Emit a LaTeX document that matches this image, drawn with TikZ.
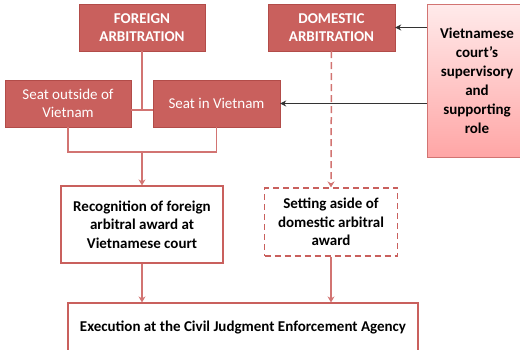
\documentclass[tikz,border=0pt]{standalone}
\usepackage{fontspec}
\setmainfont{Carlito}
\usepackage{tikz}
\usetikzlibrary{positioning,arrows.meta}
\definecolor{boxred}{HTML}{C9605D}
\definecolor{edgered}{HTML}{B24C49}
\definecolor{linkred}{HTML}{D27472}
\tikzset{
  darkbox/.style={draw=edgered,fill=boxred,text=white,align=center,font=\fontsize{15}{18}\selectfont},
  lightbox/.style={draw=boxred,line width=1.2pt,fill=white,align=center,font=\bfseries\fontsize{15}{18.5}\selectfont},
  link/.style={draw=linkred,line width=1.5pt},
  tip/.style={-{Stealth[length=6pt,width=7pt]}},
  courtarrow/.style={draw=black!80,line width=1.3pt,-{Stealth[length=6pt,width=6pt]}}
}
\begin{document}
\begin{tikzpicture}[x=1pt,y=-1pt]
\useasboundingbox (0,0) rectangle (520,349);
\clip (0,0) rectangle (520,349);
% top row
\node[darkbox,font=\bfseries\fontsize{15}{18}\selectfont,minimum width=126pt,minimum height=47pt] (foreign) at (142,27.5) {FOREIGN\\ARBITRATION};
\node[darkbox,font=\bfseries\fontsize{15}{18}\selectfont,minimum width=127pt,minimum height=47pt] (domestic) at (331.5,27.5) {DOMESTIC\\ARBITRATION};
\node[draw=linkred,top color=red!8,bottom color=red!35,align=center,font=\bfseries\fontsize{15}{19}\selectfont,minimum width=100pt,minimum height=153pt] (court) at (477,80.5) {Vietnamese\\court’s\\supervisory\\and\\supporting\\role};
% seats
\node[darkbox,minimum width=126pt,minimum height=47pt] (seatout) at (68,103.5) {Seat outside of\\Vietnam};
\node[darkbox,minimum width=127pt,minimum height=47pt] (seatin) at (216.5,103.5) {Seat in Vietnam};
% procedures
\node[lightbox,minimum width=162pt,minimum height=77pt] (recog) at (142,224.5) {Recognition of foreign\\arbitral award at\\Vietnamese court};
\node[lightbox,dash pattern=on 6pt off 4pt,minimum width=133pt,minimum height=68pt] (setaside) at (331,222) {Setting aside of\\domestic arbitral\\award};
\node[lightbox,minimum width=350pt,minimum height=48pt] (exec) at (243,327) {Execution at the Civil Judgment Enforcement Agency};
% connectors
\coordinate (join) at (142,110);
\coordinate (merge) at (142,152);
\draw[link] (foreign) -- (join);
\draw[link] (seatout.east |- join) -- (seatin.west |- join);
\draw[link] (seatout.south) |- (merge) -| (seatin.south);
\draw[link,tip] (merge) -- (recog.north);
\draw[link,dash pattern=on 7pt off 4pt,tip] (domestic.south) -- (setaside.north);
\draw[link,tip] (recog.south) -- (recog.south |- exec.north);
\draw[link,tip] (setaside.south) -- (setaside.south |- exec.north);
\draw[courtarrow] (court.west |- domestic.east) -- (domestic.east);
\draw[courtarrow] (court.west |- seatin.east) -- (seatin.east);
\end{tikzpicture}
\end{document}
